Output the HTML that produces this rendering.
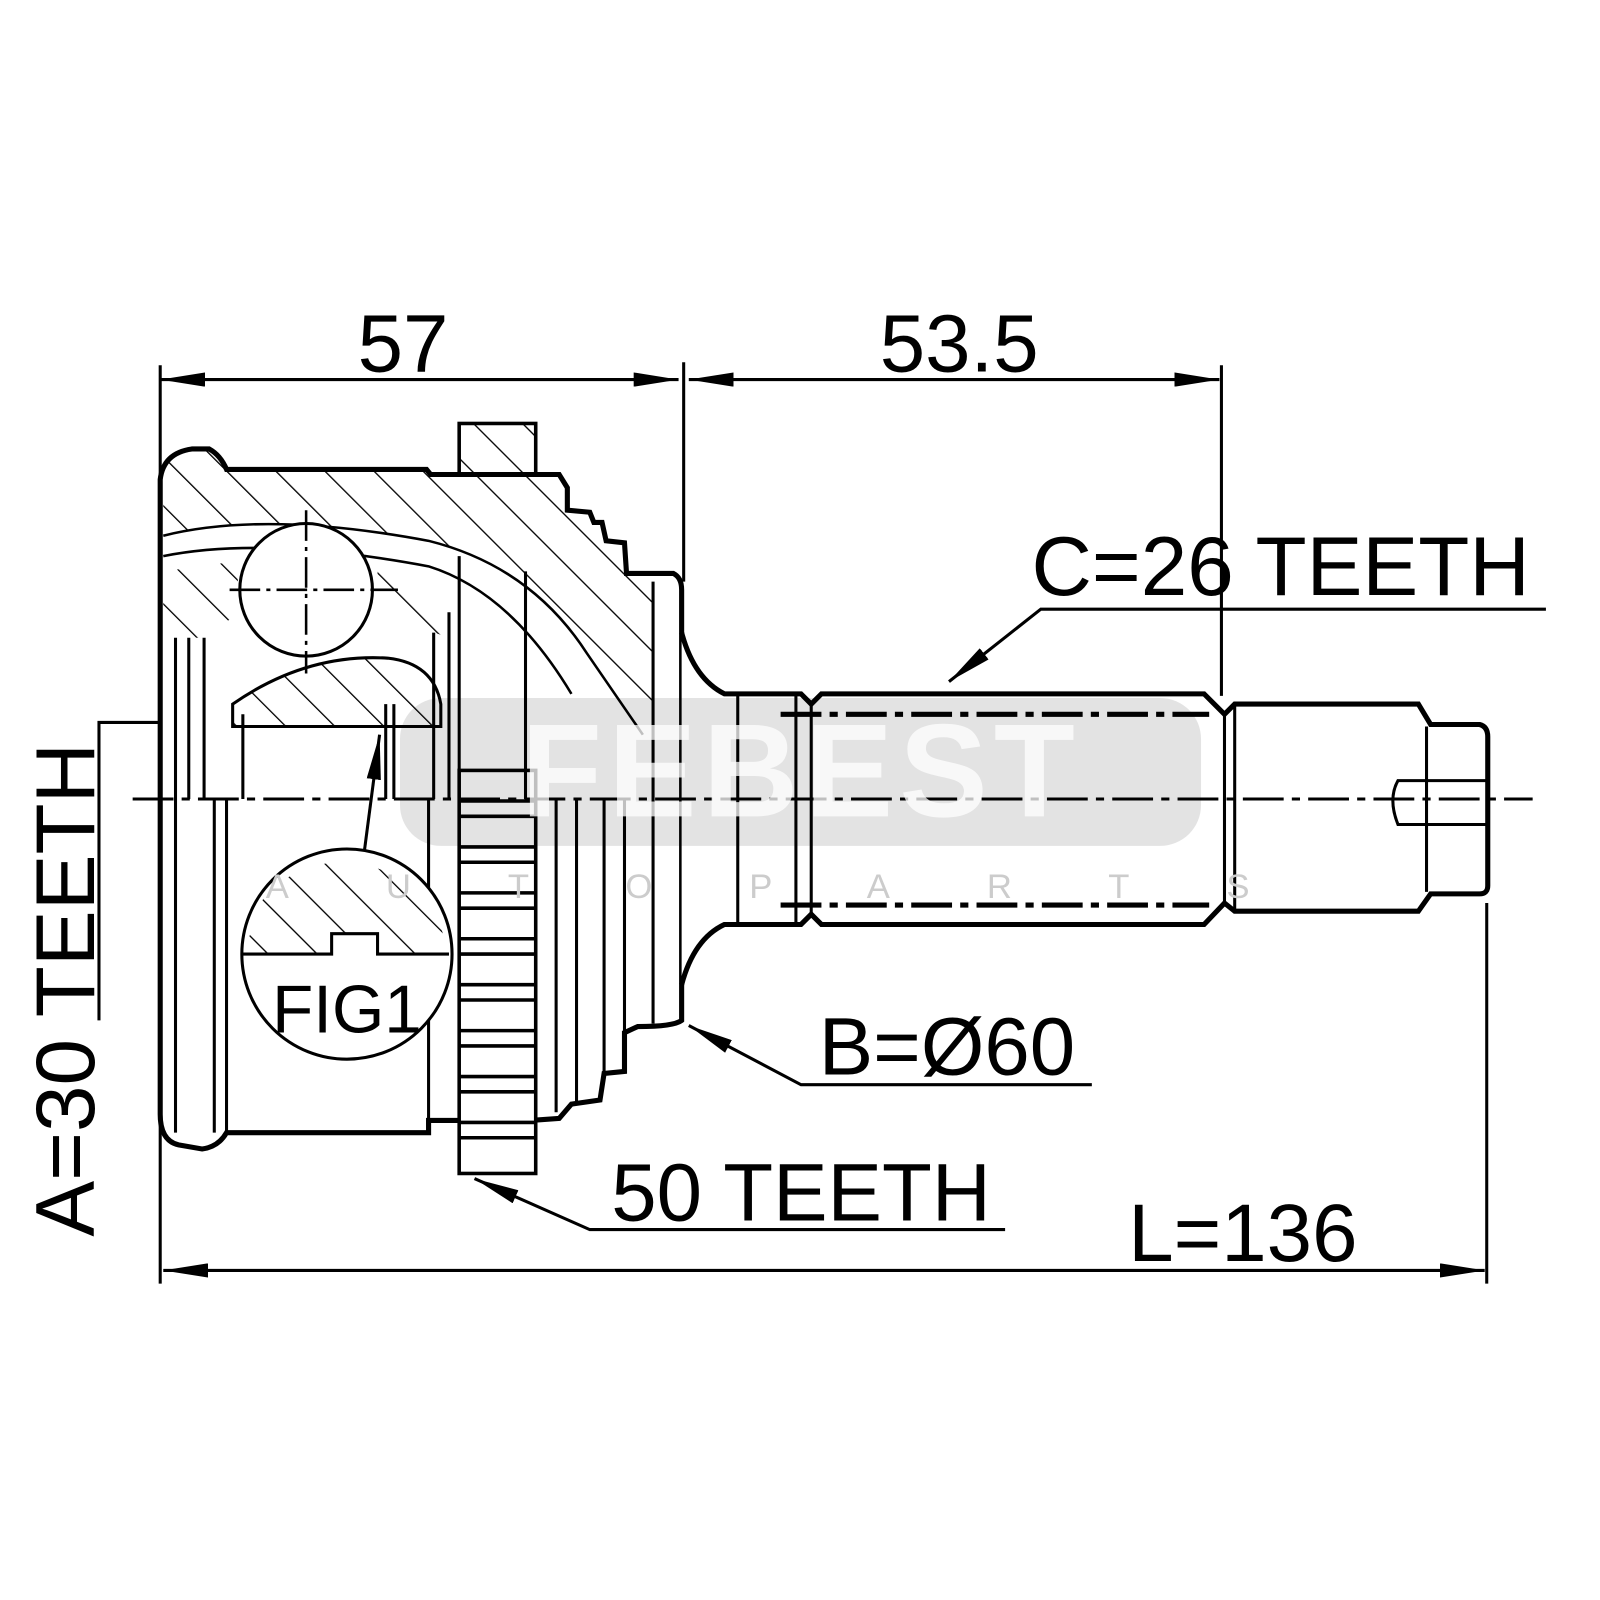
<!DOCTYPE html>
<html><head><meta charset="utf-8"><style>
html,body{margin:0;padding:0;background:#fff;}
svg{display:block;}
text{font-family:"Liberation Sans",Arial,sans-serif;fill:#000;}
</style></head><body>
<svg width="1600" height="1600" viewBox="0 0 1568 1568" xmlns="http://www.w3.org/2000/svg">
<defs>
<pattern id="h" patternUnits="userSpaceOnUse" width="34" height="34" patternTransform="rotate(-45)">
<line x1="0" y1="0" x2="0" y2="34" stroke="#000" stroke-width="2.6"/>
</pattern>
<marker id="a" viewBox="0 0 44 14" refX="44" refY="7" markerWidth="44" markerHeight="14" markerUnits="userSpaceOnUse" orient="auto-start-reverse">
<path d="M0,0 L44,7 L0,14 Z" fill="#000"/>
</marker>
</defs>
<rect width="1568" height="1568" fill="#fff"/>

<!-- extension lines -->
<g stroke="#000" stroke-width="3" fill="none">
<line x1="157" y1="358" x2="157" y2="1258"/>
<line x1="670" y1="355" x2="670" y2="570"/>
<line x1="1197" y1="358" x2="1197" y2="682"/>
<line x1="1457" y1="885" x2="1457" y2="1258"/>
<line x1="157" y1="372" x2="665" y2="372" marker-start="url(#a)" marker-end="url(#a)"/>
<line x1="675" y1="372" x2="1195" y2="372" marker-start="url(#a)" marker-end="url(#a)"/>
<line x1="160" y1="1245" x2="1455" y2="1245" marker-start="url(#a)" marker-end="url(#a)"/>
<polyline points="1515,597 1020,597 930,668" marker-end="url(#a)"/>
<polyline points="1070,1063 785,1063 675,1005" marker-end="url(#a)"/>
<polyline points="985,1205 578,1205 465,1155" marker-end="url(#a)"/>
<polyline points="97,1000 97,708 460,708"/>
</g>

<!-- housing -->
<path d="M175,1122 Q157,1118 157,1092 L157,470 Q160,444 188,440 L205,440 Q216,446 222,460 L418,460 L422,465 L450,465 L548,465 L556,478 L556,500 L578,502 L582,512 L590,512 L594,530 L612,532 L614,562 L660,562 Q668,566 668,578 L668,1000 Q660,1006 625,1006 L612,1012 L612,1050 L592,1052 L588,1078 L560,1082 L548,1096 L520,1098 L420,1098 L420,1110 L222,1110 Q214,1124 198,1126 Z" fill="#fff" stroke="#000" stroke-width="5"/>
<path d="M160,525 Q260,500 420,530 Q520,555 575,640 L630,720 L640,720 L640,570 L614,562 L612,532 L594,530 L590,512 L582,512 L578,502 L556,500 L556,478 L548,465 L422,465 L418,460 L222,460 Q216,446 205,440 L188,440 Q160,444 160,470 Z" fill="url(#h)" stroke="none"/>
<path d="M160,625 L200,625 L235,600 L232,550 L160,560 Z" fill="url(#h)"/>
<path d="M370,555 Q410,570 440,600 L440,625 L370,600 Z" fill="url(#h)"/>
<path d="M160,525 Q260,500 420,530 Q520,555 575,640 L630,720" fill="none" stroke="#000" stroke-width="2.5"/>
<path d="M160,545 Q260,525 420,555 Q500,580 560,680" fill="none" stroke="#000" stroke-width="2.5"/>
<path d="M228,690 Q300,640 380,645 Q425,650 432,690 L432,712 L228,712 Z" fill="url(#h)" stroke="#000" stroke-width="3"/>
<circle cx="300" cy="578" r="65" fill="#fff" stroke="#000" stroke-width="3"/>
<g stroke="#000" stroke-width="2.5" stroke-dasharray="30,6,4,6">
<line x1="300" y1="500" x2="300" y2="660"/>
<line x1="225" y1="578" x2="390" y2="578"/>
</g>
<rect x="450" y="415" width="75" height="50" fill="url(#h)" stroke="#000" stroke-width="3.5"/>
<rect x="450" y="755" width="75" height="395" fill="#fff" stroke="#000" stroke-width="3.5"/>
<g stroke="#000" stroke-width="3.5">
<line x1="450" y1="785" x2="525" y2="785"/><line x1="450" y1="800" x2="525" y2="800"/>
<line x1="450" y1="830" x2="525" y2="830"/><line x1="450" y1="845" x2="525" y2="845"/>
<line x1="450" y1="875" x2="525" y2="875"/><line x1="450" y1="890" x2="525" y2="890"/>
<line x1="450" y1="920" x2="525" y2="920"/><line x1="450" y1="935" x2="525" y2="935"/>
<line x1="450" y1="965" x2="525" y2="965"/><line x1="450" y1="980" x2="525" y2="980"/>
<line x1="450" y1="1010" x2="525" y2="1010"/><line x1="450" y1="1025" x2="525" y2="1025"/>
<line x1="450" y1="1055" x2="525" y2="1055"/><line x1="450" y1="1070" x2="525" y2="1070"/>
<line x1="450" y1="1100" x2="525" y2="1100"/><line x1="450" y1="1115" x2="525" y2="1115"/>
</g>
<g stroke="#000" stroke-width="3" fill="none">
<line x1="172" y1="625" x2="172" y2="1110"/>
<line x1="185" y1="625" x2="185" y2="783"/>
<line x1="200" y1="625" x2="200" y2="783"/>
<line x1="222" y1="783" x2="222" y2="1110"/>
<line x1="210" y1="783" x2="210" y2="1110"/>
<line x1="238" y1="700" x2="238" y2="783"/>
<line x1="420" y1="783" x2="420" y2="1098"/>
<line x1="440" y1="600" x2="440" y2="783"/>
<line x1="425" y1="620" x2="425" y2="783"/>
<line x1="450" y1="545" x2="450" y2="755"/>
<line x1="515" y1="560" x2="515" y2="783"/>
<line x1="545" y1="783" x2="545" y2="1090"/>
<line x1="565" y1="783" x2="565" y2="1080"/>
<line x1="592" y1="783" x2="592" y2="1050"/>
<line x1="612" y1="783" x2="612" y2="1010"/>
<line x1="640" y1="570" x2="640" y2="1003"/>
<line x1="378" y1="690" x2="378" y2="783"/>
<line x1="386" y1="690" x2="386" y2="783"/>
<polyline points="355,850 372,720" marker-end="url(#a)"/>
</g>
<circle cx="340" cy="935" r="103" fill="#fff" stroke="#000" stroke-width="3"/>
<path d="M260,875 Q340,810 425,885 L440,935 L370,935 L370,915 L325,915 L325,935 L238,935 Z" fill="url(#h)"/>
<path d="M238,935 L325,935 L325,915 L370,915 L370,935 L440,935" fill="none" stroke="#000" stroke-width="3"/>
<text x="340" y="1012" font-size="66" text-anchor="middle">FIG1</text>

<!-- shaft -->
<path d="M668,620 Q680,665 710,680 L785,680 L795,690 L805,680 L1180,680 L1200,700 L1210,690 L1390,690 L1402,710 L1450,710 Q1458,712 1458,722 L1458,868 Q1458,876 1450,876 L1402,876 L1390,893 L1210,893 L1200,885 L1180,906 L805,906 L795,896 L785,906 L710,906 Q680,920 668,965" fill="#fff" stroke="#000" stroke-width="5"/>
<g stroke="#000" stroke-width="3" fill="none">
<line x1="723" y1="680" x2="723" y2="906"/>
<line x1="780" y1="682" x2="780" y2="904"/>
<line x1="795" y1="690" x2="795" y2="896"/>
<line x1="1200" y1="700" x2="1200" y2="885"/>
<line x1="1210" y1="692" x2="1210" y2="893"/>
<line x1="1398" y1="712" x2="1398" y2="874"/>
<path d="M1458,765 L1370,765 Q1360,783 1370,808 L1458,808"/>
</g>
<g stroke="#000" stroke-width="5" stroke-dasharray="40,8,8,8">
<line x1="765" y1="700" x2="1185" y2="700"/>
<line x1="765" y1="887" x2="1185" y2="887"/>
</g>
<line x1="130" y1="783" x2="1502" y2="783" stroke="#000" stroke-width="3" stroke-dasharray="40,8,8,8"/>

<!-- watermark overlay -->
<rect x="392" y="684" width="785" height="145" rx="40" fill="#000" fill-opacity="0.11"/>
<text x="785" y="800" font-size="130" font-weight="bold" text-anchor="middle" style="fill:#fff;fill-opacity:0.75" letter-spacing="6">FEBEST</text>
<text x="790" y="880" font-size="34" text-anchor="middle" style="fill:#ccc" letter-spacing="95">AUTOPARTS</text>

<!-- texts -->
<text x="395" y="364" font-size="80" text-anchor="middle">57</text>
<text x="940" y="364" font-size="80" text-anchor="middle">53.5</text>
<text x="1255" y="583" font-size="82" text-anchor="middle">C=26 TEETH</text>
<text x="928" y="1053" font-size="80" text-anchor="middle">B=Ø60</text>
<text x="785" y="1196" font-size="80" text-anchor="middle">50 TEETH</text>
<text x="1218" y="1236" font-size="80" text-anchor="middle">L=136</text>
<text transform="translate(92,970) rotate(-90)" font-size="82" text-anchor="middle">A=30 TEETH</text>
</svg>
</body></html>
